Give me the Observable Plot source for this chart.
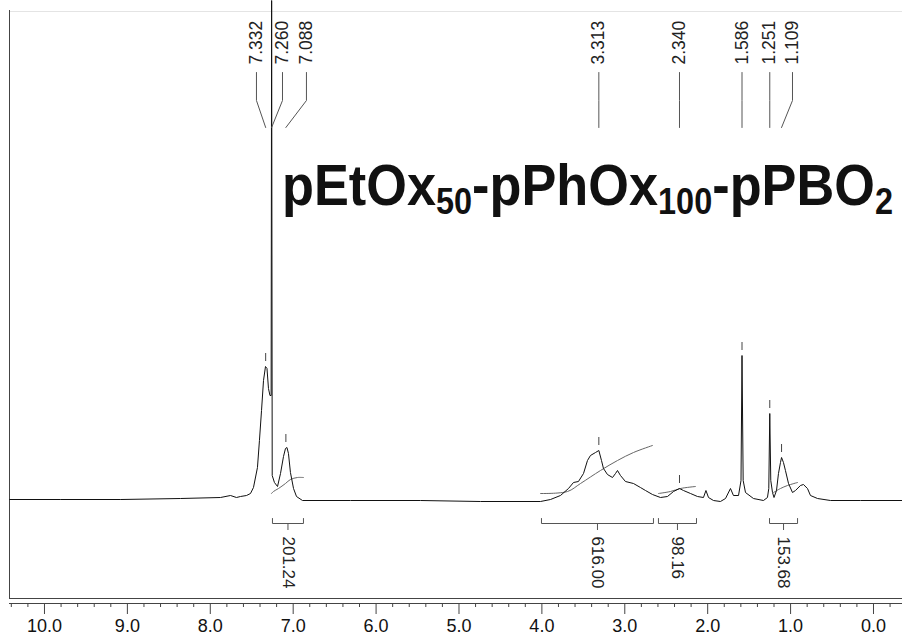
<!DOCTYPE html>
<html><head><meta charset="utf-8">
<script src="https://cdn.jsdelivr.net/npm/d3@7"></script>
<script src="https://cdn.jsdelivr.net/npm/@observablehq/plot@0.6"></script>
<style>html,body{margin:0;padding:0;background:#fff;} #chart svg{display:block;}</style>
</head><body><div id="chart"></div><script>
// ---- spectrum (chemical shift in ppm, intensity in arbitrary units) ----
const specPpm = [10.42, 9.81, 9.08, 8.36, 7.877, 7.756, 7.684, 7.636, 7.563, 7.515, 7.479, 7.431, 7.407, 7.382, 7.358, 7.334, 7.316, 7.298, 7.280, 7.266, 7.260, 7.253, 7.226, 7.189, 7.153, 7.117, 7.093, 7.075, 7.057, 7.033, 6.996, 6.960, 6.888, 6.309, 5.464, 4.741, 4.017, 3.896, 3.776, 3.679, 3.619, 3.559, 3.498, 3.450, 3.414, 3.353, 3.313, 3.281, 3.257, 3.209, 3.148, 3.112, 3.088, 3.052, 2.992, 2.895, 2.811, 2.750, 2.666, 2.569, 2.485, 2.412, 2.340, 2.292, 2.207, 2.123, 2.051, 2.021, 1.990, 1.930, 1.846, 1.785, 1.725, 1.689, 1.628, 1.598, 1.586, 1.572, 1.544, 1.448, 1.327, 1.279, 1.263, 1.251, 1.239, 1.218, 1.200, 1.170, 1.146, 1.122, 1.109, 1.086, 1.062, 1.025, 0.977, 0.941, 0.881, 0.845, 0.796, 0.760, 0.675, 0.519, 0.157, -0.350];
const specInt = [1, 1, 1, 2, 3, 5, 3, 4, 5, 7, 13, 33, 60, 90, 120, 134, 132, 112, 105, 105, 500, 25, 18, 14, 27, 44, 52, 53, 47, 28, 12, 4, 0, 0, 0, -1, -1, 1, 5, 12, 18, 19, 27, 40, 45, 48, 50, 40, 32, 26, 23, 27, 30, 25, 19, 17, 13, 10, 6, 3, 4, 9, 12, 10, 7, 4, 3, 10, 3, 0, -1, 2, 12, 5, 5, 20, 145, 20, 8, 2, 0, 3, 12, 87, 20, 8, 3, 10, 27, 38, 43, 38, 30, 17, 8, 10, 15, 16, 12, 5, 2, 0, 0, 0];

// ---- peak picking ----
const peakPpm    = [7.332, 7.260, 7.088, 3.313, 2.340, 1.586, 1.251, 1.109];
const peakHeight = [134, null, 53, 50, 12, 145, 87, 43];
const peakLabel  = ["7.332", "7.260", "7.088", "3.313", "2.340", "1.586", "1.251", "1.109"];
const peakLabelPpm = [7.443, 7.129, 6.840, 3.313, 2.340, 1.586, 1.251, 0.977];

// ---- integrals ----
const integralFrom  = [7.250, 4.005, 2.594, 1.254];
const integralTo    = [6.876, 2.654, 2.135, 0.916];
const integralValue = ["201.24", "616.00", "98.16", "153.68"];
const integralCurvePpm = [
  [7.262, 7.238, 7.177, 7.093, 7.033, 6.948, 6.876],
  [4.017, 3.691, 3.534, 3.293, 3.088, 2.895, 2.666],
  [2.593, 2.449, 2.328, 2.147],
  [1.206, 1.122, 1.037, 0.916]
];
const integralCurveInt = [
  [7, 9, 12, 17, 21, 23, 23],
  [7, 9, 17, 30, 40, 48, 55],
  [7, 9, 12, 14],
  [8, 12, 15, 18]
];

// ---- axis ticks ----
const majorTicks = [10, 9, 8, 7, 6, 5, 4, 3, 2, 1, 0];
const minorTicks = d3.range(-1, 53).map(i => i / 5).filter(v => Math.abs(v - Math.round(v)) > 1e-6);

// ---- title ----
const titleParts = [["pEtOx", false], ["50", true], ["-pPhOx", false], ["100", true], ["-pPBO", false], ["2", true]];

// ---- build tables ----
const spectrum = specPpm.map((p, i) => ({ppm: p, v: specInt[i]}));
const peaks = peakPpm.map((p, i) => ({ppm: p, h: peakHeight[i], label: peakLabel[i], lx: peakLabelPpm[i]}));
const leaders = peaks.flatMap(d => [
  {id: d.label, ppm: d.lx, v: 428},
  {id: d.label, ppm: d.lx, v: 400},
  {id: d.label, ppm: d.ppm, v: 373}
]);
const integrals = integralFrom.map((a, i) => ({a, b: integralTo[i], mid: (a + integralTo[i]) / 2, label: integralValue[i]}));
const brackets = integrals.flatMap((d, i) => [
  {id: i, ppm: d.a, v: -18}, {id: i, ppm: d.a, v: -23},
  {id: i, ppm: d.b, v: -23}, {id: i, ppm: d.b, v: -18}
]);
const curves = integralCurvePpm.flatMap((arr, i) => arr.map((p, j) => ({id: i, ppm: p, v: integralCurveInt[i][j]})));

const X0 = 10.422, X1 = -0.350, Y0 = -103, Y1 = 490;

const chart = Plot.plot({
  width: 902, height: 638,
  marginLeft: 9, marginRight: 0, marginTop: 10, marginBottom: 35,
  x: {domain: [X0, X1]},
  y: {domain: [Y0, Y1], axis: null},
  style: {fontFamily: "'Liberation Sans', Arial, Helvetica, sans-serif", fontSize: "18px", background: "#fff", color: "#111"},
  marks: [
    // frame
    Plot.ruleY([Y1 - 1], {stroke: "#e4e4e4"}),
    Plot.ruleX([X0], {y1: -98, y2: Y1, stroke: "#444"}),
    Plot.ruleY([-98], {stroke: "#444"}),
    Plot.ruleY([Y0], {stroke: "#444"}),
    // axis
    Plot.ruleX(minorTicks, {y1: Y0, y2: Y0 - 4, stroke: "#444"}),
    Plot.axisX({ticks: majorTicks, tickSize: 11, tickPadding: 5, tickFormat: d => d.toFixed(1), fontSize: 18, stroke: "#444", fill: "#111"}),
    // integrals
    Plot.line(curves, {x: "ppm", y: "v", z: "id", stroke: "#666", strokeWidth: 1, curve: "catmull-rom"}),
    Plot.line(brackets, {x: "ppm", y: "v", z: "id", stroke: "#555", strokeWidth: 1}),
    Plot.ruleX(integrals, {x: "mid", y1: -23, y2: -30, stroke: "#555"}),
    Plot.text(integrals, {x: "mid", y: -36, text: "label", rotate: 90, textAnchor: "start", lineAnchor: "middle", fontSize: 17, fill: "#222"}),
    // spectrum
    Plot.line(spectrum, {x: "ppm", y: "v", stroke: "#111", strokeWidth: 1}),
    // peak markers and labels
    Plot.ruleX(peaks.filter(d => d.h != null), {x: "ppm", y1: d => d.h + 5, y2: d => d.h + 13, stroke: "#444"}),
    Plot.line(leaders, {x: "ppm", y: "v", z: "id", stroke: "#555", strokeWidth: 1}),
    Plot.text(peaks, {x: "lx", y: 436, text: "label", rotate: -90, textAnchor: "start", lineAnchor: "middle", fontSize: 17.5, fill: "#222"})
  ]
});

// title with subscripts
const title = d3.select(chart).append("text")
  .attr("x", 282).attr("y", 205)
  .attr("text-anchor", "start")
  .attr("font-family", "'Liberation Sans', Arial, Helvetica, sans-serif")
  .attr("font-weight", "bold").attr("font-size", 58).attr("fill", "#111")
  .attr("textLength", 611).attr("lengthAdjust", "spacingAndGlyphs");
let sub = false;
for (const [s, isSub] of titleParts) {
  const ts = title.append("tspan").text(s);
  if (isSub && !sub) ts.attr("dy", 9);
  if (!isSub && sub) ts.attr("dy", -9);
  if (isSub) ts.attr("font-size", 36);
  sub = isSub;
}
document.getElementById("chart").append(chart);
</script></body></html>
